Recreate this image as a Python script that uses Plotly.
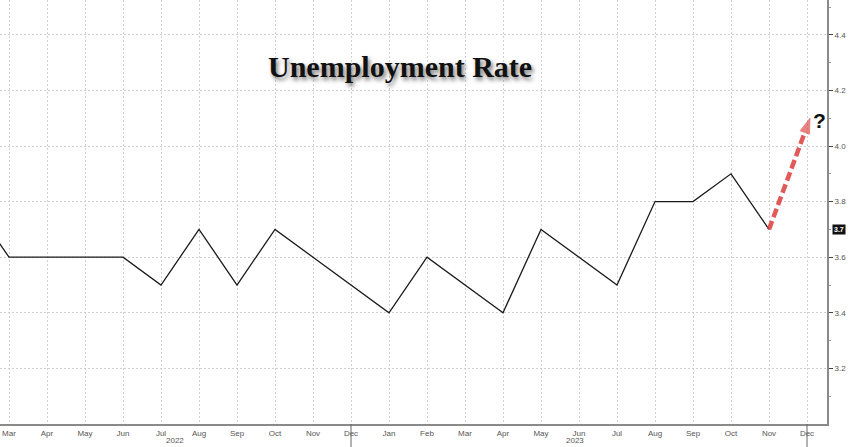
import plotly.graph_objects as go

# ---- data ----
month_labels = ["Mar", "Apr", "May", "Jun", "Jul", "Aug", "Sep", "Oct", "Nov", "Dec",
                "Jan", "Feb", "Mar", "Apr", "May", "Jun", "Jul", "Aug", "Sep", "Oct", "Nov", "Dec"]
month_index = list(range(len(month_labels)))          # Mar 2022 .. Dec 2023
series_x = [-1] + month_index[:21]                    # Feb 2022 .. Nov 2023
unemployment = [3.8, 3.6, 3.6, 3.6, 3.6, 3.5, 3.7, 3.5, 3.7, 3.6, 3.5,
                3.4, 3.6, 3.5, 3.4, 3.7, 3.6, 3.5, 3.8, 3.8, 3.9, 3.7]
year_labels = ["2022", "2023"]
year_label_x = [4.37, 14.9]
year_sep_x = [9, 21]
arrow_x = [20, 21.08]
arrow_y = [3.7, 4.10]
y_ticks = [3.2, 3.4, 3.6, 3.8, 4.0, 4.2, 4.4]
last_value = 3.7

fig = go.Figure()

fig.add_trace(go.Scatter(
    x=series_x, y=unemployment, mode="lines",
    line=dict(color="#1a1a1a", width=1.3), hoverinfo="skip", showlegend=False))

fig.add_trace(go.Scatter(
    x=arrow_x, y=arrow_y, mode="lines+markers",
    line=dict(color="rgba(220,60,60,0.85)", width=4.5, dash="9px,4px"),
    marker=dict(symbol="arrow", size=[0, 16], angleref="previous",
                color="rgba(220,60,60,0.9)"),
    hoverinfo="skip", showlegend=False))

grid = "#cfcfcf"
fig.update_xaxes(
    range=[-9/38, 818/38],
    tickmode="array", tickvals=month_index, ticktext=month_labels,
    tickfont=dict(family="Liberation Sans", size=8, color="#555"),
    showgrid=True, gridcolor=grid, griddash="2px,2px", gridwidth=1,
    showline=True, linecolor="#8a8a8a", linewidth=2,
    ticks="", zeroline=False, ticklabelstandoff=0)

fig.update_yaxes(
    range=[3.0, 3.0 + 424/278], side="right",
    tickmode="array", tickvals=y_ticks, ticktext=[f"{v:.1f}" for v in y_ticks],
    tickfont=dict(family="Liberation Sans", size=8, color="#555"),
    showgrid=True, gridcolor=grid, griddash="2px,2px", gridwidth=1,
    showline=True, linecolor="#8a8a8a", linewidth=2,
    ticks="outside", ticklen=4, tickcolor="#444", tickwidth=1,
    minor=dict(tickmode="array", tickvals=[3.1, 3.3, 3.5, 3.7, 3.9, 4.1, 4.3, 4.5],
               ticks="outside", ticklen=2, tickcolor="#999", showgrid=False),
    zeroline=False)

for xs in year_sep_x:
    fig.add_shape(type="line", xref="x", yref="paper", x0=xs, x1=xs, y0=0, y1=-0.06,
                  line=dict(color="#666", width=1))

for lab, xv in zip(year_labels, year_label_x):
    fig.add_annotation(text=lab, x=xv, xref="x", y=-16/424, yref="paper",
                       yanchor="middle", showarrow=False,
                       font=dict(family="Liberation Sans", size=8, color="#555"))

fig.add_annotation(text="<b>Unemployment Rate</b>", x=400/827, y=(424-48)/424,
                   xref="paper", yref="paper", showarrow=False,
                   font=dict(family="Liberation Serif", size=30, color="#111",
                             shadow="2px 3px 4px #777"))

fig.add_annotation(text="<b>?</b>", x=21.34, y=4.09, xref="x", yref="y", showarrow=False,
                   font=dict(family="Liberation Sans", size=21, color="#111"))

fig.add_annotation(text=f"<b>{last_value:.1f}</b>", x=1, xref="paper", y=last_value, yref="y",
                   xanchor="left", xshift=5, showarrow=False, bgcolor="#111",
                   borderpad=1, font=dict(family="Liberation Sans", size=7, color="white"))

fig.update_layout(
    width=848, height=447,
    margin=dict(l=0, r=21, t=0, b=23),
    paper_bgcolor="white", plot_bgcolor="white",
    showlegend=False)

fig.write_html("out.html", config={"displayModeBar": False},
               post_script="document.body.style.margin='0';")
